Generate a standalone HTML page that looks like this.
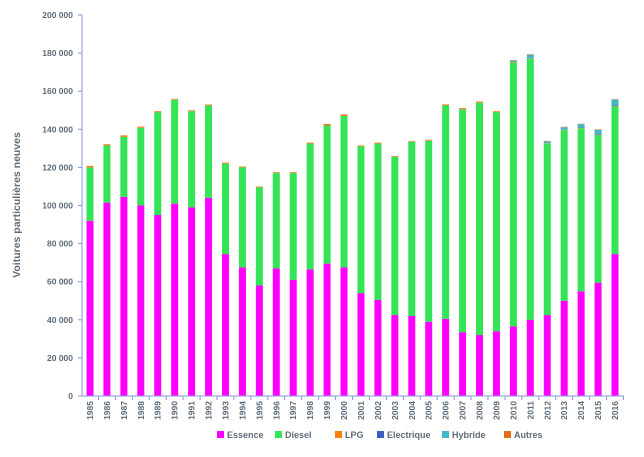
<!DOCTYPE html>
<html><head><meta charset="utf-8"><style>
body{margin:0;background:#fff;font-family:"Liberation Sans",sans-serif}
svg text{font-family:"Liberation Sans",sans-serif;fill:#5d6b78;font-weight:bold}
</style></head><body>
<svg id="c" width="644" height="452"></svg>
<script>
const years=[1985,1986,1987,1988,1989,1990,1991,1992,1993,1994,1995,1996,1997,1998,1999,2000,2001,2002,2003,2004,2005,2006,2007,2008,2009,2010,2011,2012,2013,2014,2015,2016];
const essence=[92,101.5,104.5,100,95,101,99,104,74.5,67.5,58,67,61,66.5,69.5,67.5,54,50.5,42.5,42,39,40.5,33.5,32,34,36.5,40,42.5,50,55,59.5,74.5];
const diesel=[28,30,31.5,40.7,54,54.5,50.5,48.5,47.5,52.5,51.5,50,56,66,72.5,79.5,77,82,83,91.5,95,112,117,122,115,138.5,137,90,89.5,85.5,77.5,77.5];
const lpg=[0.5,0.4,0.5,0.4,0.3,0.3,0.3,0.3,0.3,0.3,0.3,0.3,0.3,0.3,0.5,0.5,0.3,0.3,0.2,0.2,0.3,0.4,0.4,0.4,0.3,0.3,0.2,0.2,0.2,0.2,0.2,0.2];
const electrique=[0,0,0,0,0,0,0,0,0,0,0,0,0,0,0,0,0,0,0,0,0,0,0,0,0,0,0,0,0.1,0.2,0.3,0.4];
const hybride=[0,0,0,0,0,0,0,0,0,0,0,0,0,0,0,0,0,0,0,0,0,0,0,0,0,0.8,2,1,1.3,1.8,2.3,3];
const autres=[0.3,0.3,0.3,0.3,0.2,0.2,0.2,0.2,0.2,0.2,0.2,0.2,0.2,0.2,0.3,0.3,0.2,0.2,0.2,0.2,0.2,0.2,0.2,0.2,0.2,0.2,0.2,0.2,0.2,0.2,0.2,0.2];
const yTicks=[0,20000,40000,60000,80000,100000,120000,140000,160000,180000,200000];
const yTickLabels=["0","20 000","40 000","60 000","80 000","100 000","120 000","140 000","160 000","180 000","200 000"];
const seriesNames=["Essence","Diesel","LPG","Electrique","Hybride","Autres"];
const seriesColors=["#ff00ff","#33e457","#ff7f0e","#3a5fbf","#42b7c9","#e0701c"];
const svg=document.getElementById('c');const NS='http://www.w3.org/2000/svg';
function mk(t,a,p){const e=document.createElementNS(NS,t);for(const k in a)e.setAttribute(k,a[k]);(p||svg).appendChild(e);return e;}
const x0=82,y0=396,yTop=15,step=(615-90)/31;
const y=v=>y0-(v/200000)*(y0-yTop);
const xc=i=>90+i*step;
yTicks.forEach((t,i)=>{
 const tk=mk('line',{x1:78,x2:82,y1:y(t),y2:y(t),stroke:'#8a93e0'});
 
 const tx=mk('text',{x:73,y:y(t)+3,'text-anchor':'end','font-size':8.5});tx.textContent=yTickLabels[i];
 
});
const series=[essence,diesel,lpg,electrique,hybride,autres];
years.forEach((yr,i)=>{
 let acc=0;
 series.forEach((s,k)=>{
  const v=s[i]*1000;if(v<=0)return;
  const r=mk('rect',{x:xc(i)-3.5,width:7,y:y(acc+v),height:y(acc)-y(acc+v),fill:seriesColors[k]});
  
  
  acc+=v;
 });
 const tl=mk('line',{x1:xc(i)+step/2,x2:xc(i)+step/2,y1:y0,y2:y0+4,stroke:'#8a93e0'});
 
 const lb=mk('text',{x:0,y:0,'text-anchor':'end','font-size':8.5,transform:`translate(${xc(i)+3},${y0+5}) rotate(-90)`});
 lb.textContent=yr;
 
});
const ya=mk('line',{x1:x0,x2:x0,y1:yTop,y2:y0,stroke:'#8a93e0'});

const xa=mk('line',{x1:x0,x2:624,y1:y0,y2:y0,stroke:'#8a93e0'});

const yt=mk('text',{x:0,y:0,'text-anchor':'middle','font-size':10.5,transform:'translate(20,205) rotate(-90)'});
yt.textContent='Voitures particulières neuves';

const lx=[217,275,335,377,442,504];
seriesNames.forEach((n,k)=>{
 const g=mk('g',{});
 
 mk('rect',{x:lx[k],y:431,width:7,height:7,fill:seriesColors[k]},g);
 const t=mk('text',{x:lx[k]+10,y:438,'font-size':9},g);t.textContent=n;
});
</script>
</body></html>
